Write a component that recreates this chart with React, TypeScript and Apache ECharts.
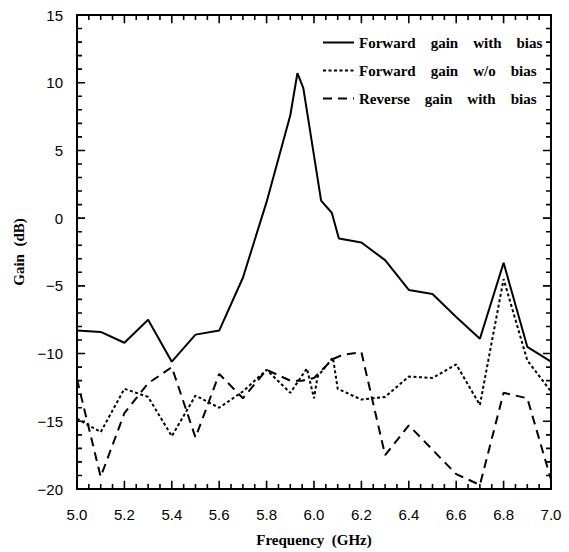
import React, { useEffect, useRef } from "react";
import * as echarts from "echarts";

const fwdBiasFreq = [5.0, 5.1, 5.2, 5.3, 5.4, 5.5, 5.6, 5.7, 5.8, 5.9, 5.93, 5.955, 6.03, 6.075, 6.105, 6.2, 6.3, 6.4, 6.5, 6.6, 6.7, 6.8, 6.9, 7.0];
const fwdBiasGain = [-8.3, -8.4, -9.2, -7.5, -10.6, -8.6, -8.3, -4.4, 1.2, 7.6, 10.7, 9.6, 1.3, 0.4, -1.5, -1.8, -3.1, -5.3, -5.6, -7.3, -8.9, -3.3, -9.5, -10.6];

const fwdNoBiasFreq = [5.0, 5.1, 5.2, 5.3, 5.4, 5.5, 5.6, 5.7, 5.8, 5.9, 5.97, 6.0, 6.015, 6.08, 6.1, 6.2, 6.3, 6.4, 6.5, 6.6, 6.7, 6.8, 6.9, 7.0];
const fwdNoBiasGain = [-14.8, -15.8, -12.6, -13.2, -16.1, -13.1, -14.0, -12.8, -11.2, -12.9, -11.1, -13.3, -11.7, -10.3, -12.6, -13.4, -13.2, -11.7, -11.8, -10.8, -13.8, -4.5, -10.5, -12.8];

const revBiasFreq = [5.0, 5.1, 5.2, 5.3, 5.4, 5.5, 5.6, 5.7, 5.8, 5.9, 5.95, 6.0, 6.08, 6.12, 6.2, 6.3, 6.4, 6.5, 6.6, 6.7, 6.8, 6.9, 7.0];
const revBiasGain = [-11.9, -19.1, -14.4, -12.2, -11.0, -16.2, -11.5, -13.3, -11.2, -12.0, -12.0, -11.8, -10.4, -10.1, -9.9, -17.5, -15.3, -17.1, -18.9, -19.7, -12.9, -13.3, -19.3];

const seriesNames = ["Forward gain with bias", "Forward gain w/o bias", "Reverse gain with bias"];

const X_MIN = 5.0;
const X_MAX = 7.0;
const Y_MIN = -20;
const Y_MAX = 15;

const pairs = (xs: number[], ys: number[]) => xs.map((x, i) => [x, ys[i]]);

// Tick marks drawn as broken line segments in data units (major/minor lengths).
const X_TICK_MAJOR = 0.6; // dB units, vertical ticks on top/bottom
const X_TICK_MINOR = 0.37;
const Y_TICK_MAJOR = 0.034; // GHz units, horizontal ticks on left/right
const Y_TICK_MINOR = 0.021;
const tickSegments: any[] = [];
for (let i = 0; i <= 40; i++) {
  const v = X_MIN + i * 0.05;
  const L = i % 4 === 0 ? X_TICK_MAJOR : X_TICK_MINOR;
  tickSegments.push([v, Y_MIN], [v, Y_MIN + L], [v, "-"]);
  tickSegments.push([v, Y_MAX], [v, Y_MAX - L], [v, "-"]);
}
for (let i = 0; i <= 35; i++) {
  const v = Y_MIN + i;
  const L = i % 5 === 0 ? Y_TICK_MAJOR : Y_TICK_MINOR;
  tickSegments.push([X_MIN, v], [X_MIN + L, v], [X_MIN, "-"]);
  tickSegments.push([X_MAX, v], [X_MAX - L, v], [X_MAX, "-"]);
}

const serif = "'Liberation Serif', 'DejaVu Serif', serif";
const sans = "'Liberation Sans', Arial, sans-serif";

export default function App() {
  const ref = useRef<HTMLDivElement>(null);
  useEffect(() => {
    if (!ref.current) return;
    const chart = echarts.init(ref.current, undefined, { renderer: "svg" });
    const mkAxisLine = () => ({ show: true, onZero: false, lineStyle: { color: "#000", width: 2 } });
    const option: any = {
      animation: false,
      backgroundColor: "#fff",
      grid: { left: 77, right: 18, top: 15, bottom: 59 },
      legend: {
        orient: "vertical",
        left: 317,
        top: 30,
        itemWidth: 31,
        itemHeight: 14,
        itemGap: 13,
        data: seriesNames,
        itemStyle: { color: "rgba(0,0,0,0)", borderWidth: 0, opacity: 0 },
        formatter: (name: string) => name.split(" ").join("\u2002\u2002"),
        textStyle: { fontFamily: serif, fontWeight: "bold", fontSize: 15, color: "#000" },
      },
      xAxis: [
        {
          type: "value",
          min: X_MIN,
          max: X_MAX,
          interval: 0.2,
          name: "Frequency  (GHz)",
          nameLocation: "middle",
          nameGap: 43,
          nameTextStyle: { fontFamily: serif, fontWeight: "bold", fontSize: 15, color: "#000" },
          axisLine: mkAxisLine(),
          axisTick: { show: false },
          splitLine: { show: false },
          axisLabel: {
            margin: 18,
            fontFamily: sans,
            fontSize: 15,
            color: "#000",
            formatter: (v: number) => v.toFixed(1),
          },
        },
        {
          type: "value",
          position: "top",
          min: X_MIN,
          max: X_MAX,
          interval: 0.2,
          axisLine: mkAxisLine(),
          axisTick: { show: false },
          splitLine: { show: false },
          axisLabel: { show: false },
        },
      ],
      yAxis: [
        {
          type: "value",
          min: Y_MIN,
          max: Y_MAX,
          interval: 5,
          name: "Gain  (dB)",
          nameLocation: "middle",
          nameGap: 46,
          nameTextStyle: { fontFamily: serif, fontWeight: "bold", fontSize: 15, color: "#000" },
          axisLine: mkAxisLine(),
          axisTick: { show: false },
          splitLine: { show: false },
          axisLabel: {
            margin: 14,
            fontFamily: sans,
            fontSize: 15,
            color: "#000",
            formatter: (v: number) => (v < 0 ? "\u2212" + Math.abs(v) : String(v)),
          },
        },
        {
          type: "value",
          position: "right",
          min: Y_MIN,
          max: Y_MAX,
          interval: 5,
          axisLine: mkAxisLine(),
          axisTick: { show: false },
          splitLine: { show: false },
          axisLabel: { show: false },
        },
      ],
      series: [
        {
          name: "axis ticks",
          type: "line",
          data: tickSegments,
          showSymbol: false,
          symbol: "none",
          silent: true,
          connectNulls: false,
          clip: false,
          lineStyle: { color: "#000", width: 1.6, type: "solid" },
          itemStyle: { color: "#000" },
          z: 3,
        },
        {
          name: seriesNames[0],
          type: "line",
          data: pairs(fwdBiasFreq, fwdBiasGain),
          showSymbol: false,
          symbol: "none",
          lineStyle: { color: "#000", width: 2, type: "solid" },
          itemStyle: { color: "#000" },
        },
        {
          name: seriesNames[1],
          type: "line",
          data: pairs(fwdNoBiasFreq, fwdNoBiasGain),
          showSymbol: false,
          symbol: "none",
          lineStyle: { color: "#000", width: 2, type: [3, 2.5] },
          itemStyle: { color: "#000" },
        },
        {
          name: seriesNames[2],
          type: "line",
          data: pairs(revBiasFreq, revBiasGain),
          showSymbol: false,
          symbol: "none",
          lineStyle: { color: "#000", width: 2, type: [9, 6] },
          itemStyle: { color: "#000" },
        },
      ],
    };
    chart.setOption(option);
    return () => chart.dispose();
  }, []);
  return <div ref={ref} style={{ width: 569, height: 552, position: "absolute", left: 0, top: 0 }} />;
}
